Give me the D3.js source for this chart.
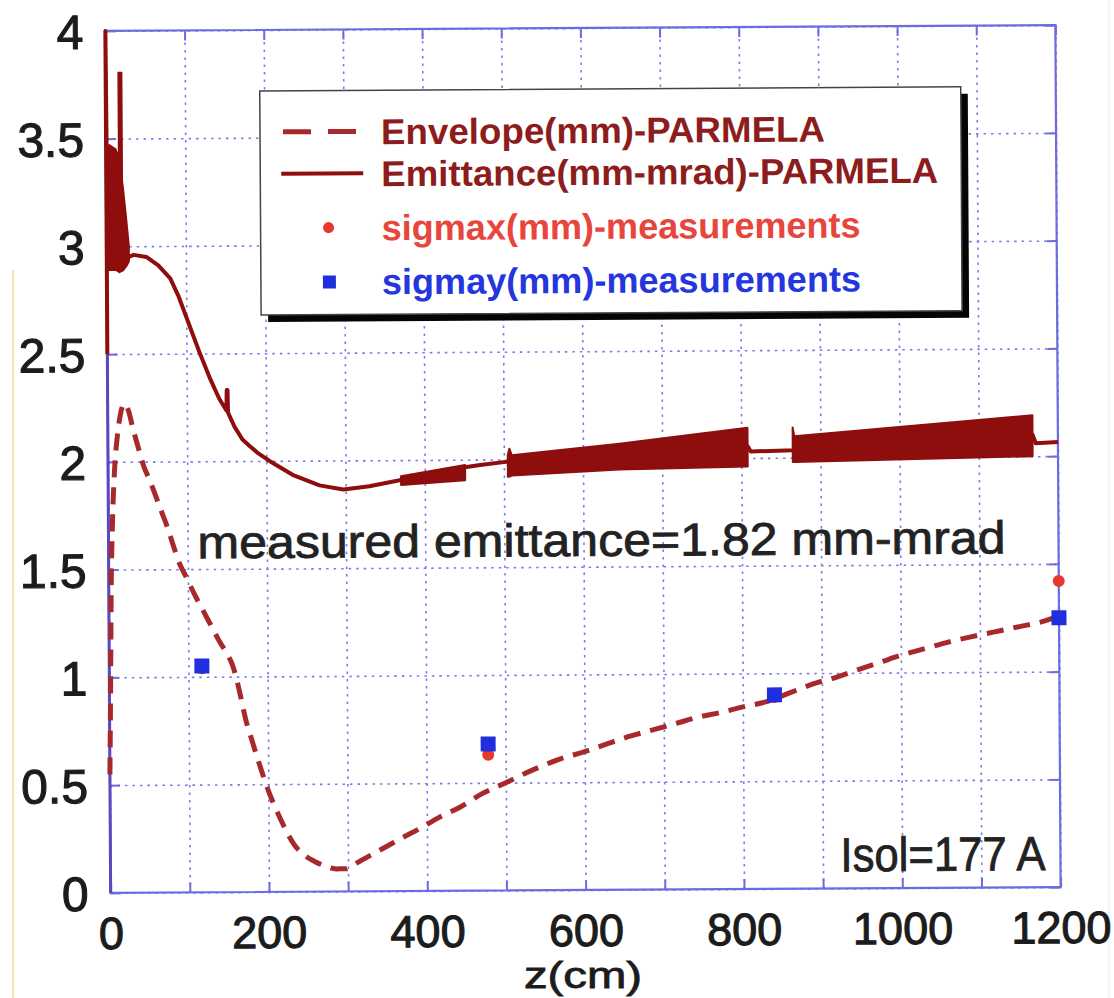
<!DOCTYPE html>
<html>
<head>
<meta charset="utf-8">
<script src="https://cdn.jsdelivr.net/npm/d3@7"></script>
<style>
  html, body { margin: 0; padding: 0; background: #fff; }
  svg { display: block; }
  text { font-family: "Liberation Sans", Arial, Helvetica, sans-serif; }
</style>
</head>
<body>
<svg id="chart" width="1114" height="998"></svg>
<script>
// ---- axis ticks ----
const xTickLabels = [0, 200, 400, 600, 800, 1000, 1200];
const xGridTicks = [0, 100, 200, 300, 400, 500, 600, 700, 800, 900, 1000, 1100, 1200];
const yTickLabels = [0, 0.5, 1, 1.5, 2, 2.5, 3, 3.5, 4];

// ---- PARMELA beam envelope (mm) along z (cm) ----
const envelope = [
  [0, 0.55], [1, 0.8], [2, 1.1], [3, 1.4], [5, 1.7], [8, 1.95], [12, 2.12], [16, 2.22],
  [21, 2.27], [26, 2.24], [32, 2.15], [38, 2.07], [45, 1.98], [53, 1.91], [61, 1.83],
  [68, 1.76], [75, 1.69], [81, 1.62], [88, 1.54], [97, 1.47], [110, 1.37], [120, 1.30],
  [130, 1.23], [140, 1.16], [150, 1.10], [155, 1.06], [160, 1.0], [165, 0.92], [172, 0.80],
  [180, 0.70], [190, 0.58], [200, 0.47], [210, 0.38], [220, 0.30], [232, 0.22], [245, 0.17],
  [258, 0.14], [270, 0.12], [285, 0.105], [297, 0.105], [310, 0.13], [330, 0.17], [350, 0.21],
  [370, 0.25], [391, 0.29], [415, 0.34], [443, 0.39], [470, 0.45], [500, 0.5], [535, 0.56],
  [570, 0.61], [598, 0.64], [630, 0.68], [655, 0.71], [685, 0.74], [715, 0.77], [745, 0.80],
  [772, 0.82], [800, 0.845], [831, 0.87], [860, 0.91], [889, 0.95], [918, 0.98], [946, 1.015],
  [975, 1.05], [1000, 1.08], [1030, 1.11], [1060, 1.14], [1090, 1.165], [1117, 1.185],
  [1150, 1.21], [1186, 1.24], [1200, 1.26]
];

// ---- PARMELA emittance (mm-mrad) along z (cm): centre line ----
const emittance = [
  [0, 2.5], [0, 4.0], [1.2, 3.0], [3, 2.9], [27, 2.95], [34, 2.96], [50, 2.95], [65, 2.91],
  [80, 2.85], [90, 2.77], [98, 2.69], [106, 2.61], [117, 2.5], [130, 2.38], [141, 2.29],
  [150, 2.235], [150.5, 2.33], [151.5, 2.33], [152, 2.225], [160, 2.16], [170, 2.1],
  [179, 2.07], [190, 2.035], [204, 2.0], [233, 1.935], [267, 1.885], [297, 1.865],
  [330, 1.88], [373, 1.91], [410, 1.935], [451, 1.965], [470, 1.975], [505, 1.99],
  [650, 2.02], [808, 2.055], [812, 2.03], [866, 2.035], [1000, 2.07], [1168, 2.1],
  [1172, 2.06], [1200, 2.065]
];

// rapid oscillation of the emittance, drawn as filled bands: [z, low, high]
const emittanceBandStart = [
  [0.5, 2.89, 3.40], [4, 2.89, 3.47], [12, 2.89, 3.45], [16, 2.88, 3.41],
  [21, 2.89, 3.27], [25, 2.91, 3.12], [28, 2.93, 3.0]
];
const emittanceBandA = [[370, 1.885, 1.925], [451, 1.905, 1.975]];
const emittanceBandB = [
  [505, 1.92, 2.02], [507, 1.92, 2.05], [510, 1.925, 2.02], [646, 1.95, 2.07], [808, 1.96, 2.14]
];
const emittanceBandC = [
  [865, 1.98, 2.14], [867, 1.98, 2.10], [1168, 2.0, 2.19]
];
const emittanceSpike = [[18, 2.9], [18, 3.81]];

// ---- measured beam sizes (mm) ----
const sigmaxZ = [117, 478, 840, 1200];
const sigmaxV = [1.04, 0.63, 0.89, 1.42];
const sigmayZ = [117, 478, 840, 1200];
const sigmayV = [1.05, 0.68, 0.90, 1.25];

const legendLabels = [
  "Envelope(mm)-PARMELA",
  "Emittance(mm-mrad)-PARMELA",
  "sigmax(mm)-measurements",
  "sigmay(mm)-measurements"
];

// ---- drawing ----
const svg = d3.select("#chart");
const plotL = 108, plotR = 1058, plotT = 28, plotB = 890;
const x = d3.scaleLinear().domain([0, 1200]).range([plotL, plotR]);
const y = d3.scaleLinear().domain([0, 4]).range([plotB, plotT]);

const darkRed = "#8e0d0d";
const envRed = "#a8292b";
const frameBlue = "#6c6ce0";
const gridBlue = "#7b7be6";
const ink = "#1c1c1c";

// faint page edges
svg.append("line").attr("x1", 13).attr("x2", 13).attr("y1", 270).attr("y2", 998)
  .attr("stroke", "#f1e3b4").attr("stroke-width", 2);
svg.append("line").attr("x1", 1109).attr("x2", 1109).attr("y1", 0).attr("y2", 998)
  .attr("stroke", "#f7f3e6").attr("stroke-width", 1.5);

const g = svg.append("g").attr("transform", "rotate(-0.35,583,459)");

// grid
const gridX = g.append("g").attr("transform", `translate(0,${plotB})`)
  .call(d3.axisBottom(x).tickValues(xGridTicks).tickSize(-(plotB - plotT)).tickFormat(""));
const gridY = g.append("g").attr("transform", `translate(${plotL},0)`)
  .call(d3.axisLeft(y).tickValues(yTickLabels).tickSize(-(plotR - plotL)).tickFormat(""));
[gridX, gridY].forEach(a => {
  a.select(".domain").remove();
  a.selectAll(".tick line").attr("stroke", gridBlue).attr("stroke-width", 1.6)
    .attr("stroke-dasharray", "2.5,5");
});

// inner tick marks on all four sides
const tl = 10;
const tickAxes = [
  g.append("g").attr("transform", `translate(0,${plotB})`).call(d3.axisBottom(x).tickValues(xGridTicks).tickSize(-tl).tickFormat("")),
  g.append("g").attr("transform", `translate(0,${plotT})`).call(d3.axisTop(x).tickValues(xGridTicks).tickSize(-tl).tickFormat("")),
  g.append("g").attr("transform", `translate(${plotL},0)`).call(d3.axisLeft(y).tickValues(yTickLabels).tickSize(-tl).tickFormat("")),
  g.append("g").attr("transform", `translate(${plotR},0)`).call(d3.axisRight(y).tickValues(yTickLabels).tickSize(-tl).tickFormat(""))
];
tickAxes.forEach(a => {
  a.select(".domain").remove();
  a.selectAll(".tick line").attr("stroke", frameBlue).attr("stroke-width", 2);
});

// frame
g.append("rect").attr("x", plotL).attr("y", plotT).attr("width", plotR - plotL).attr("height", plotB - plotT)
  .attr("fill", "none").attr("stroke", frameBlue).attr("stroke-width", 2.2);
g.append("line").attr("x1", plotL).attr("x2", plotL).attr("y1", plotT).attr("y2", plotB)
  .attr("stroke", "#5a48bf").attr("stroke-width", 3);

// tick labels
const xLab = g.append("g").attr("transform", `translate(0,${plotB})`)
  .call(d3.axisBottom(x).tickValues(xTickLabels).tickSize(0).tickFormat(d3.format("d")));
xLab.select(".domain").remove();
xLab.selectAll("text").attr("y", 56).attr("dy", null)
  .attr("font-size", 45).attr("fill", ink).attr("font-family", null)
  .attr("stroke", ink).attr("stroke-width", 1.1);

const yLab = g.append("g").attr("transform", `translate(${plotL},0)`)
  .call(d3.axisLeft(y).tickValues(yTickLabels).tickSize(0).tickFormat(d => String(d)));
yLab.select(".domain").remove();
yLab.selectAll("text").attr("x", -22).attr("dy", "0.36em")
  .attr("font-size", 48).attr("fill", ink).attr("font-family", null)
  .attr("stroke", ink).attr("stroke-width", 1.1);

svg.append("text").attr("x", 583).attr("y", 988).attr("text-anchor", "middle")
  .attr("font-size", 37).attr("fill", ink).attr("stroke", ink).attr("stroke-width", 0.8)
  .attr("textLength", 118).attr("lengthAdjust", "spacingAndGlyphs")
  .text("z(cm)");

// emittance bands and line
const band = d3.area().x(d => x(d[0])).y0(d => y(d[1])).y1(d => y(d[2]));
[emittanceBandStart, emittanceBandA, emittanceBandB, emittanceBandC].forEach(b => {
  g.append("path").datum(b).attr("d", band).attr("fill", darkRed)
    .attr("stroke", darkRed).attr("stroke-width", 2).attr("stroke-linejoin", "round");
});
const line = d3.line().x(d => x(d[0])).y(d => y(d[1]));
g.append("path").datum(emittance).attr("d", line).attr("fill", "none")
  .attr("stroke", darkRed).attr("stroke-width", 4).attr("stroke-linejoin", "round");
g.append("path").datum(emittanceSpike).attr("d", line).attr("fill", "none")
  .attr("stroke", darkRed).attr("stroke-width", 5);

// envelope (dashed)
const smooth = d3.line().x(d => x(d[0])).y(d => y(d[1])).curve(d3.curveMonotoneX);
g.append("path").datum(envelope).attr("d", smooth).attr("fill", "none")
  .attr("stroke", envRed).attr("stroke-width", 5).attr("stroke-dasharray", "17,10");

// measurements
g.append("g").selectAll("circle").data(d3.range(sigmaxZ.length)).join("circle")
  .attr("cx", i => x(sigmaxZ[i])).attr("cy", i => y(sigmaxV[i])).attr("r", 6)
  .attr("fill", "#e8372c");
const sq = 15;
g.append("g").selectAll("rect").data(d3.range(sigmayZ.length)).join("rect")
  .attr("x", i => x(sigmayZ[i]) - sq / 2).attr("y", i => y(sigmayV[i]) - sq / 2)
  .attr("width", sq).attr("height", sq).attr("fill", "#1f2fe0");

// annotations
g.append("text").attr("x", 197).attr("y", 556).attr("font-size", 46).attr("fill", "#222")
  .attr("stroke", "#222").attr("stroke-width", 0.8)
  .attr("textLength", 808).attr("lengthAdjust", "spacingAndGlyphs")
  .text("measured emittance=1.82 mm-mrad");
g.append("text").attr("x", 838).attr("y", 873).attr("font-size", 48).attr("fill", "#222")
  .attr("stroke", "#222").attr("stroke-width", 0.8)
  .attr("textLength", 205).attr("lengthAdjust", "spacingAndGlyphs")
  .text("Isol=177 A");

// legend
const lg = g.append("g");
lg.append("rect").attr("x", 269).attr("y", 96).attr("width", 701).attr("height", 224).attr("fill", "#050505");
lg.append("rect").attr("x", 262).attr("y", 89).attr("width", 701).attr("height", 224)
  .attr("fill", "#fff").attr("stroke", "#444").attr("stroke-width", 1.5);

const rowY = [130, 172, 226, 280];
const labelColors = ["#8d1d1d", "#8d1d1d", "#e8453c", "#2436de"];
const labelLen = [444, 557, 479, 479];
lg.append("line").attr("x1", 285).attr("x2", 358).attr("y1", rowY[0]).attr("y2", rowY[0])
  .attr("stroke", envRed).attr("stroke-width", 5).attr("stroke-dasharray", "28,17");
lg.append("line").attr("x1", 283).attr("x2", 365).attr("y1", rowY[1]).attr("y2", rowY[1])
  .attr("stroke", darkRed).attr("stroke-width", 4);
lg.append("circle").attr("cx", 330).attr("cy", rowY[2]).attr("r", 5.5).attr("fill", "#e8372c");
lg.append("rect").attr("x", 324).attr("y", rowY[3] - 6).attr("width", 13).attr("height", 13).attr("fill", "#1f2fe0");
lg.selectAll("text.lab").data(legendLabels).join("text").attr("class", "lab")
  .attr("x", 383).attr("y", (d, i) => rowY[i] + 13)
  .attr("font-size", 36).attr("font-weight", "bold")
  .attr("fill", (d, i) => labelColors[i])
  .attr("textLength", (d, i) => labelLen[i]).attr("lengthAdjust", "spacingAndGlyphs")
  .text(d => d);
</script>
</body>
</html>
